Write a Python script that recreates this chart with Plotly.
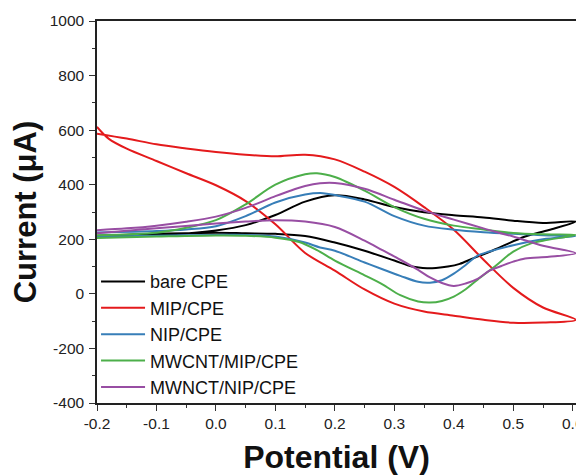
import plotly.graph_objects as go

# ---- data (potential in V, current in uA), forward scan then reverse scan ----
series_names = ["bare CPE", "MIP/CPE", "NIP/CPE", "MWCNT/MIP/CPE", "MWNCT/NIP/CPE"]
series_colors = ["#000000", "#E41A1C", "#377EB8", "#4DAF4A", "#984EA3"]

bare_E = [-0.2, -0.15, -0.1, -0.05, 0.0, 0.05, 0.1, 0.15, 0.2, 0.25, 0.3, 0.35, 0.4, 0.45, 0.5, 0.55, 0.605,
          0.56, 0.52, 0.48, 0.45, 0.43, 0.41, 0.39, 0.37, 0.355, 0.33, 0.3, 0.25, 0.2, 0.15, 0.1, 0.05, 0.0, -0.1, -0.2]
bare_I = [211, 213, 216, 221, 232, 252, 289, 338, 361, 346, 318, 299, 288, 280, 268, 260, 265,
          234, 210, 173, 145, 128, 110, 100, 95, 94, 100, 122, 158, 188, 212, 220, 222, 224, 220, 213]

mip_E = [-0.2, -0.15, -0.1, -0.05, 0.0, 0.05, 0.1, 0.15, 0.2, 0.25, 0.3, 0.35, 0.4, 0.45, 0.5, 0.55, 0.605,
         0.55, 0.5, 0.45, 0.4, 0.35, 0.3, 0.25, 0.2, 0.15, 0.1, 0.05, 0.0, -0.05, -0.1, -0.15, -0.18, -0.2]
mip_I = [587, 569, 548, 533, 520, 510, 504, 510, 493, 448, 392, 318, 235, 125, 22, -50, -95,
         -105, -106, -95, -80, -65, -36, 16, 85, 150, 255, 340, 398, 442, 487, 532, 568, 612]

nip_E = [-0.2, -0.1, -0.05, 0.0, 0.05, 0.1, 0.15, 0.18, 0.2, 0.25, 0.3, 0.35, 0.4, 0.45, 0.5, 0.55, 0.605,
         0.55, 0.5, 0.46, 0.44, 0.42, 0.4, 0.38, 0.36, 0.34, 0.31, 0.28, 0.25, 0.2, 0.175, 0.15, 0.1, 0.05, 0.0, -0.1, -0.2]
nip_I = [225, 230, 236, 248, 285, 335, 364, 369, 362, 338, 285, 250, 235, 226, 220, 215, 212,
         200, 178, 155, 140, 106, 74, 50, 41, 44, 66, 90, 115, 158, 170, 188, 210, 216, 216, 213, 210]

mwmip_E = [-0.2, -0.1, -0.05, 0.0, 0.05, 0.1, 0.15, 0.17, 0.2, 0.25, 0.3, 0.35, 0.4, 0.45, 0.5, 0.55, 0.605,
           0.55, 0.53, 0.5, 0.47, 0.44, 0.42, 0.4, 0.38, 0.36, 0.34, 0.31, 0.28, 0.25, 0.2, 0.17, 0.14, 0.1, 0.05, 0.0, -0.1, -0.2]
mwmip_I = [215, 224, 242, 270, 328, 400, 438, 442, 428, 378, 318, 275, 250, 236, 223, 218, 216,
           195, 185, 155, 102, 52, 17, -10, -26, -32, -28, -5, 35, 68, 122, 160, 190, 206, 213, 214, 210, 205]

mwnip_E = [-0.2, -0.15, -0.1, -0.05, 0.0, 0.05, 0.1, 0.125, 0.15, 0.175, 0.2, 0.25, 0.3, 0.35, 0.4, 0.45, 0.5, 0.55, 0.605,
           0.56, 0.52, 0.5, 0.48, 0.46, 0.44, 0.42, 0.4, 0.38, 0.36, 0.34, 0.31, 0.28, 0.25, 0.2, 0.15, 0.1, 0.05, 0.0, -0.1, -0.2]
mwnip_I = [233, 240, 250, 264, 283, 315, 358, 378, 395, 405, 406, 385, 345, 305, 272, 240, 210, 176, 149,
           136, 130, 118, 102, 85, 55, 38, 29, 40, 60, 88, 125, 160, 195, 245, 265, 270, 265, 258, 240, 222]

series_E = [bare_E, mip_E, nip_E, mwmip_E, mwnip_E]
series_I = [bare_I, mip_I, nip_I, mwmip_I, mwnip_I]

x_ticks = [-0.2, -0.1, 0.0, 0.1, 0.2, 0.3, 0.4, 0.5, 0.6]
y_ticks = [-400, -200, 0, 200, 400, 600, 800, 1000]

FONT = "Liberation Sans, Arial, sans-serif"

fig = go.Figure()
for name, color, E, I in zip(series_names, series_colors, series_E, series_I):
    fig.add_trace(go.Scatter(
        x=E, y=I, mode="lines", name=name,
        line=dict(color=color, width=2, shape="spline", smoothing=0.9),
    ))

axis_common = dict(
    automargin=False,
    showgrid=False, zeroline=False, showline=True, linewidth=1.5, linecolor="#222",
    mirror=True, ticks="outside", ticklen=6, tickwidth=1.3, tickcolor="#333",
    tickfont=dict(family=FONT, size=15.5, color="#222"),
)

# The page body adds an 8px offset; the figure is sized so it fills the 584x475 window.
fig.update_layout(
    width=576, height=467,
    margin=dict(l=89, r=8, t=13, b=72),
    paper_bgcolor="white", plot_bgcolor="white",
    font=dict(family=FONT),
    showlegend=True,
    legend=dict(
        x=-0.002, xanchor="left", y=0.366, yanchor="top",
        bgcolor="rgba(0,0,0,0)", borderwidth=0,
        font=dict(family=FONT, size=18, color="#111"),
        itemwidth=44, tracegroupgap=0,
    ),
    xaxis=dict(
        **axis_common,
        range=[-0.2, 0.6055],
        tickvals=x_ticks, ticktext=[f"{v:.1f}" for v in x_ticks],
        minor=dict(ticks="outside", ticklen=3.5, tickwidth=1.2, tickcolor="#333", dtick=0.05, tick0=-0.2),
        title=dict(text="<b>Potential (V)</b>", font=dict(family=FONT, size=32, color="#111"), standoff=16),
    ),
    yaxis=dict(
        **axis_common,
        range=[-400, 1000],
        ticklabelstandoff=2,
        tickvals=y_ticks, ticktext=[str(v) for v in y_ticks],
        minor=dict(ticks="outside", ticklen=3.5, tickwidth=1.2, tickcolor="#333", dtick=100, tick0=-400),
        title=dict(text="<b>Current (μA)</b>", font=dict(family=FONT, size=31, color="#111"), standoff=4),
    ),
)

fig.write_html("out.html")
